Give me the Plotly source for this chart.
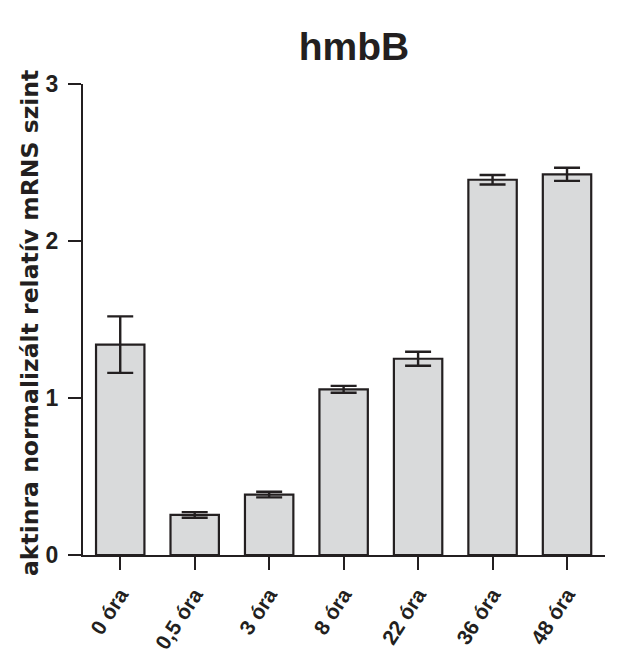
import plotly.graph_objects as go

categories = ["0 óra", "0,5 óra", "3 óra", "8 óra", "22 óra", "36 óra", "48 óra"]
values = [1.34, 0.255, 0.385, 1.055, 1.25, 2.39, 2.425]
errors = [0.18, 0.018, 0.018, 0.022, 0.045, 0.03, 0.042]
y_ticks = [0, 1, 2, 3]
y_title = "aktinra normalizált relatív mRNS szint"

DARK = "#231f20"
BAR_FILL = "#d9dadb"
FONT = "Liberation Sans, Arial, sans-serif"

# page body has an 8px margin, so the figure is a bit smaller than the window
FIG_W, FIG_H = 613, 646
ML, MR, MT, MB = 75, 16, 76, 99
PLOT_W = FIG_W - ML - MR
PLOT_H = FIG_H - MT - MB

fig = go.Figure(go.Bar(
    x=categories, y=values, width=0.65,
    marker=dict(color=BAR_FILL, line=dict(color=DARK, width=2.2)),
    error_y=dict(type="data", array=errors, visible=True, color=DARK, thickness=2.4, width=13),
))

fig.update_layout(
    width=FIG_W, height=FIG_H, autosize=False,
    plot_bgcolor="white", paper_bgcolor="white",
    margin=dict(l=ML, r=MR, t=MT, b=MB, pad=0),
    showlegend=False,
    font=dict(family=FONT, color=DARK),
    title=dict(text="<b>hmbB</b>", font=dict(size=39, family=FONT, color=DARK),
               x=346 / FIG_W, xref="container", xanchor="center",
               y=1 - 38 / FIG_H, yref="container", yanchor="middle"),
)
# y-axis title as an annotation so it stays put when tick labels move
fig.add_annotation(
    text=y_title, textangle=-90, showarrow=False,
    xref="paper", yref="paper", x=(22 - ML) / PLOT_W, y=(MT + PLOT_H - 315) / PLOT_H,
    xanchor="center", yanchor="middle",
    font=dict(size=23.5, family="DejaVu Sans, sans-serif", color=DARK, weight="bold"),
)
fig.update_xaxes(
    range=[-0.5, 6.51], showline=True, linecolor=DARK, linewidth=2, automargin=False,
    ticks="outside", ticklen=13, tickwidth=2, tickcolor=DARK,
    tickangle=-57, ticklabelstandoff=4,
    tickfont=dict(size=21, family=FONT, color=DARK, weight="bold"),
    showgrid=False, zeroline=False,
)
fig.update_yaxes(
    range=[0, 3], tickvals=y_ticks, showline=True, linecolor=DARK, linewidth=2, automargin=False,
    ticks="outside", ticklen=13, tickwidth=2, tickcolor=DARK, ticklabelstandoff=5,
    tickfont=dict(size=23, family=FONT, color=DARK, weight="bold"),
    showgrid=False, zeroline=False,
)

fig.write_html("out.html")
